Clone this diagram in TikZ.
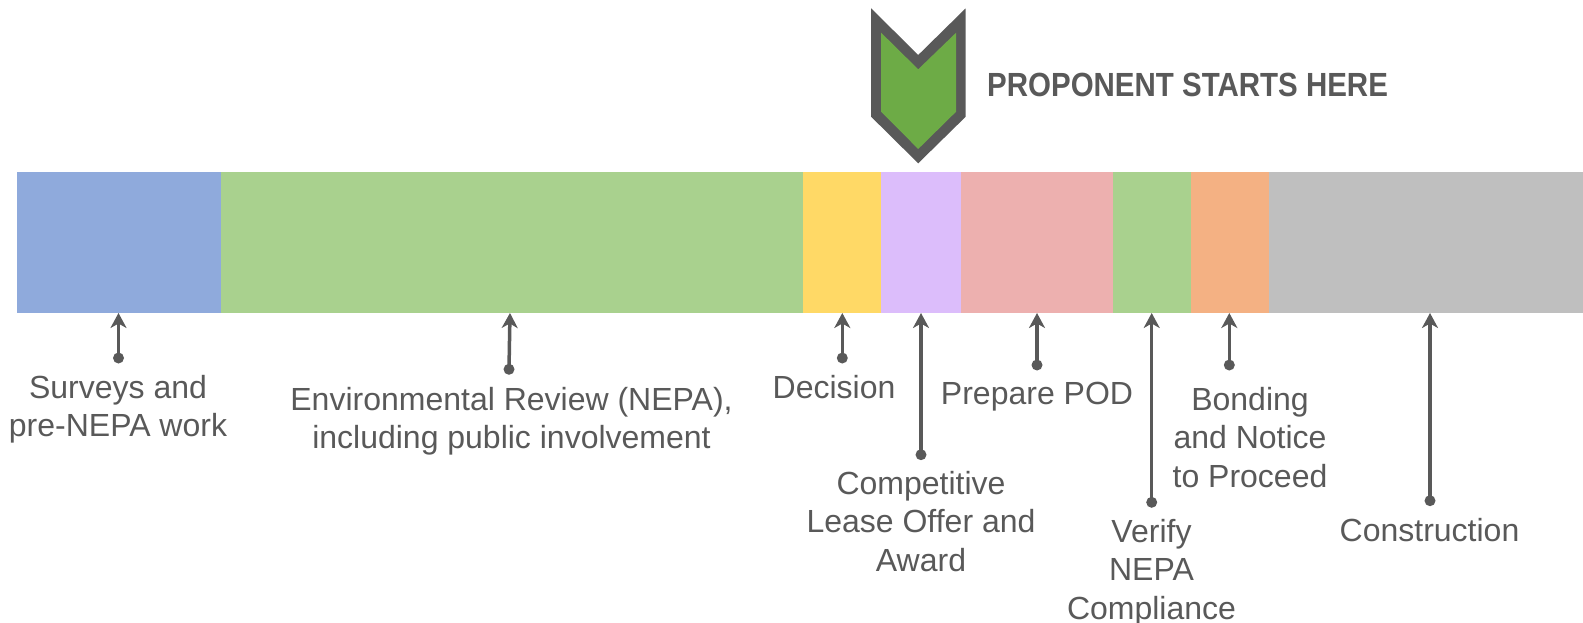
\documentclass[tikz,border=0pt]{standalone}
\usepackage{fontspec}
\setmainfont{Liberation Sans}
\usetikzlibrary{arrows.meta}
\definecolor{txt}{HTML}{595959}
\definecolor{cblue}{HTML}{8FAADC}
\definecolor{cgreen}{HTML}{A9D18E}
\definecolor{cyellow}{HTML}{FFD966}
\definecolor{cpurple}{HTML}{DCBDFB}
\definecolor{cpink}{HTML}{EDB0AF}
\definecolor{corange}{HTML}{F4B183}
\definecolor{cgray}{HTML}{BFBFBF}
\definecolor{chev}{HTML}{6DAB46}
\tikzset{
  seg/.style={draw=none, inner sep=0pt, outer sep=0pt, minimum height=140.5pt, anchor=north west},
  lbl/.style={text=txt, align=center, inner sep=0pt, anchor=north, font=\fontsize{32}{38.5}\selectfont},
  dotend/.style={circle, fill=txt, inner sep=0pt, minimum size=11pt},
  conn/.style={draw=txt, line width=3.5pt, -{Stealth[length=15pt,width=16pt,inset=4.5pt]}, shorten >=0.5pt},
}
\begin{document}
\begin{tikzpicture}[x=1pt,y=-1pt]
\useasboundingbox (0,0) rectangle (1583,623);
% timeline bar
\node[seg, fill=cblue,   minimum width=204pt] (s1) at (17,172) {};
\node[seg, fill=cgreen,  minimum width=582pt] (s2) at (221,172) {};
\node[seg, fill=cyellow, minimum width=78pt]  (s3) at (803,172) {};
\node[seg, fill=cpurple, minimum width=80pt]  (s4) at (881,172) {};
\node[seg, fill=cpink,   minimum width=152pt] (s5) at (961,172) {};
\node[seg, fill=cgreen,  minimum width=78pt]  (s6) at (1113,172) {};
\node[seg, fill=corange, minimum width=78pt]  (s7) at (1191,172) {};
\node[seg, fill=cgray,   minimum width=314pt] (s8) at (1269,172) {};
% chevron
\fill[txt] (871.1,8.3) -- (918.2,55) -- (965.7,8.3) -- (965.7,116.7) -- (918.2,163.3) -- (871.1,116.7) -- cycle;
\fill[chev] (881.1,32.7) -- (918.2,69.3) -- (956.1,32.7) -- (956.1,111.7) -- (918.2,149) -- (881.1,111.7) -- cycle;
\node[text=txt, inner sep=0pt, anchor=base west, font=\fontsize{33.5}{40}\selectfont\bfseries] (head) at (987,96.7) {\scalebox{0.88}[1]{PROPONENT STARTS HERE}};
% dots
\node[dotend] (d1) at (118.5,358) {};
\node[dotend] (d2) at (509,369.3) {};
\node[dotend] (d3) at (842.3,358) {};
\node[dotend] (d4) at (921,454.7) {};
\node[dotend] (d5) at (1037,365) {};
\node[dotend] (d6) at (1151.7,502.3) {};
\node[dotend] (d7) at (1229.3,365) {};
\node[dotend] (d8) at (1430,500.7) {};
% connectors
\draw[conn] (d1.center) -- (d1 |- s1.south);
\draw[conn] (d2.center) -- (510,312.5);
\draw[conn] (d3.center) -- (d3 |- s3.south);
\draw[conn] (d4.center) -- (d4 |- s4.south);
\draw[conn] (d5.center) -- (d5 |- s5.south);
\draw[conn] (d6.center) -- (d6 |- s6.south);
\draw[conn] (d7.center) -- (d7 |- s7.south);
\draw[conn] (d8.center) -- (d8 |- s8.south);
% labels
\node[lbl] (l1) at (118,375) {Surveys and\\pre-NEPA work};
\node[lbl] (l2) at (511.5,387) {Environmental Review (NEPA),\\including public involvement};
\node[lbl] (l3) at (834,374.7) {Decision};
\node[lbl] (l4) at (921,471) {Competitive\\Lease Offer and\\Award};
\node[lbl] (l5) at (1037,382) {Prepare POD};
\node[lbl] (l6) at (1151.5,518.7) {Verify\\NEPA\\Compliance};
\node[lbl] (l7) at (1250,387) {Bonding\\and Notice\\to Proceed};
\node[lbl] (l8) at (1429.5,518) {Construction};
\end{tikzpicture}
\end{document}
